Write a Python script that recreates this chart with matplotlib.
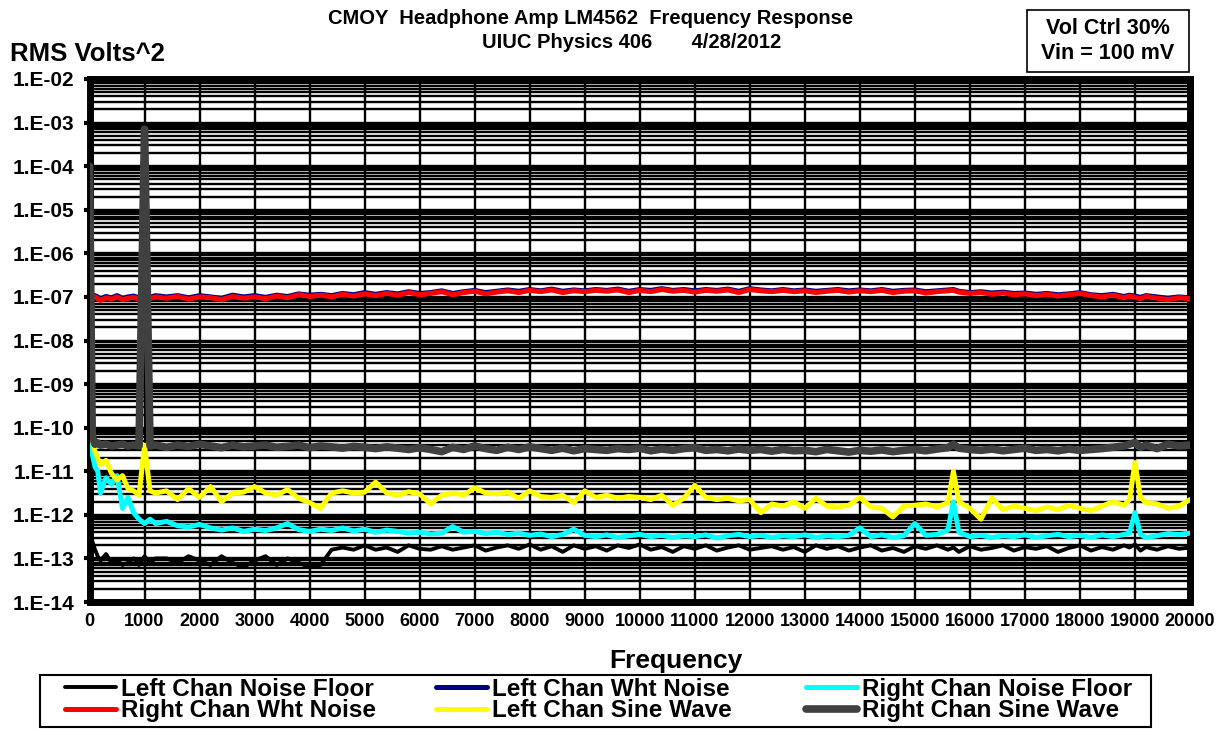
import numpy as np
import matplotlib
matplotlib.use("Agg")
import matplotlib.pyplot as plt
from matplotlib.ticker import LogLocator, MultipleLocator, FuncFormatter, NullFormatter
from matplotlib.patches import Rectangle

plt.rcParams['font.family'] = ['Liberation Sans', 'DejaVu Sans']
plt.rcParams['font.weight'] = 'bold'

# frequency grid (Hz): 200 Hz steps plus a few extra points near the start and the spikes
freq = sorted(set(range(0, 20001, 200)) | {50, 100, 150, 300, 500, 700, 900, 1100, 15700, 18900, 19100})

# values are log10(RMS Volts^2)
# rows: 0-1200 | 1400-2800 | 3000-4400 | 4600-6000 | 6200-7600 | 7800-9200 | 9400-10800
#       11000-12400 | 12600-14000 | 14200-15600 | 15700-17200 | 17400-18800 | 18900-20000
left_noise = [
    -12.35, -12.6, -12.8, -12.95, -13.05, -12.9, -13.1, -13.05, -13.15, -13.1, -13.0, -13.15, -12.95, -13.1, -13.0,
    -13.0, -13.1, -12.95, -13.05, -13.15, -12.95, -13.1, -13.2,
    -13.05, -12.95, -13.15, -13.0, -13.1, -13.2, -13.15, -12.8,
    -12.75, -12.8, -12.7, -12.8, -12.75, -12.85, -12.7, -12.78,
    -12.8, -12.72, -12.8, -12.75, -12.7, -12.82, -12.75, -12.7,
    -12.78, -12.68, -12.8, -12.72, -12.85, -12.7, -12.78, -12.72,
    -12.82, -12.7, -12.76, -12.68, -12.8, -12.74, -12.85, -12.72,
    -12.78, -12.7, -12.82, -12.75, -12.7, -12.8, -12.76, -12.72,
    -12.8, -12.74, -12.85, -12.7, -12.78, -12.72, -12.82, -12.75,
    -12.7, -12.82, -12.76, -12.85, -12.72, -12.78, -12.7, -12.8,
    -12.75, -12.85, -12.72, -12.8, -12.76, -12.7, -12.82, -12.74, -12.78,
    -12.72, -12.85, -12.76, -12.7, -12.82, -12.74, -12.8, -12.7,
    -12.75, -12.68, -12.82, -12.74, -12.8, -12.72, -12.78, -12.75,
]
left_wht = [
    -7.0, -7.02, -6.97, -7.0, -7.04, -6.99, -7.02, -6.97, -7.03, -7.0, -6.98, -7.02, -6.99, -7.01, -6.97,
    -7.0, -6.97, -7.02, -6.97, -7.0, -7.03, -6.96, -7.0,
    -6.97, -7.01, -6.96, -6.99, -6.93, -6.96, -6.94, -6.97,
    -6.92, -6.95, -6.9, -6.94, -6.9, -6.93, -6.88, -6.92,
    -6.9, -6.86, -6.92, -6.88, -6.85, -6.9, -6.87, -6.84,
    -6.87, -6.83, -6.86, -6.82, -6.87, -6.84, -6.86, -6.83,
    -6.85, -6.82, -6.87, -6.83, -6.85, -6.81, -6.85, -6.83,
    -6.86, -6.83, -6.85, -6.82, -6.87, -6.81, -6.84, -6.86,
    -6.83, -6.86, -6.84, -6.87, -6.85, -6.83, -6.86, -6.84,
    -6.86, -6.83, -6.87, -6.85, -6.84, -6.88, -6.86, -6.84,
    -6.83, -6.87, -6.9, -6.88, -6.91, -6.89, -6.92, -6.91, -6.94,
    -6.92, -6.95, -6.93, -6.9, -6.95, -6.97, -6.94, -6.99,
    -6.96, -6.98, -7.01, -6.97, -7.0, -7.03, -7.0, -7.02,
]
right_noise = [
    -10.0, -10.6, -10.9, -11.0, -11.5, -11.15, -11.3, -11.1, -11.85, -11.6, -11.95, -12.1, -12.2, -12.1, -12.2,
    -12.15, -12.25, -12.28, -12.22, -12.3, -12.35, -12.3, -12.38,
    -12.33, -12.36, -12.3, -12.2, -12.34, -12.38, -12.33, -12.36,
    -12.3, -12.37, -12.33, -12.4, -12.35, -12.38, -12.42, -12.4,
    -12.44, -12.42, -12.27, -12.4, -12.38, -12.43, -12.4, -12.45,
    -12.42, -12.47, -12.44, -12.5, -12.45, -12.33, -12.47, -12.5,
    -12.46, -12.52, -12.48, -12.45, -12.5, -12.47, -12.52, -12.48,
    -12.5, -12.46, -12.53, -12.48, -12.45, -12.5, -12.47, -12.52,
    -12.48, -12.5, -12.46, -12.52, -12.48, -12.5, -12.47, -12.3,
    -12.5, -12.46, -12.52, -12.48, -12.2, -12.47, -12.45, -12.35,
    -11.7, -12.4, -12.5, -12.47, -12.52, -12.48, -12.5, -12.46, -12.52,
    -12.48, -12.45, -12.5, -12.47, -12.52, -12.46, -12.5, -12.45,
    -12.42, -11.95, -12.45, -12.52, -12.48, -12.43, -12.45, -12.42,
]
right_wht = [
    -7.02, -7.05, -7.0, -7.04, -7.08, -7.02, -7.05, -7.0, -7.06, -7.03, -7.01, -7.05, -7.02, -7.04, -7.0,
    -7.03, -6.99, -7.05, -7.0, -7.02, -7.06, -6.99, -7.03,
    -7.0, -7.04, -6.98, -7.02, -6.95, -6.99, -6.96, -7.0,
    -6.94, -6.98, -6.93, -6.97, -6.92, -6.96, -6.9, -6.95,
    -6.92, -6.88, -6.95, -6.9, -6.87, -6.93, -6.89, -6.86,
    -6.9, -6.85, -6.88, -6.84, -6.9, -6.86, -6.88, -6.85,
    -6.87, -6.84, -6.9, -6.85, -6.88, -6.83, -6.87, -6.85,
    -6.89, -6.85, -6.87, -6.84, -6.9, -6.83, -6.86, -6.88,
    -6.85, -6.88, -6.86, -6.9, -6.87, -6.85, -6.89, -6.86,
    -6.88, -6.85, -6.9, -6.87, -6.86, -6.91, -6.88, -6.86,
    -6.85, -6.89, -6.92, -6.9, -6.94, -6.91, -6.95, -6.93, -6.97,
    -6.94, -6.98, -6.95, -6.92, -6.97, -7.0, -6.96, -7.02,
    -6.98, -7.01, -7.04, -6.99, -7.03, -7.06, -7.02, -7.04,
]
left_sine = [
    -10.0, -10.3, -10.55, -10.7, -10.85, -10.75, -11.05, -11.2, -11.1, -11.4, -11.45, -11.55, -10.4, -11.45, -11.5,
    -11.45, -11.65, -11.4, -11.6, -11.35, -11.7, -11.5, -11.48,
    -11.35, -11.5, -11.55, -11.42, -11.62, -11.72, -11.85, -11.5,
    -11.45, -11.5, -11.48, -11.25, -11.5, -11.55, -11.47, -11.52,
    -11.75, -11.55, -11.5, -11.55, -11.38, -11.5, -11.52, -11.48,
    -11.62, -11.45, -11.58, -11.6, -11.55, -11.72, -11.45, -11.6,
    -11.55, -11.62, -11.58, -11.6, -11.65, -11.55, -11.78, -11.62,
    -11.32, -11.6, -11.65, -11.62, -11.68, -11.65, -11.95, -11.75,
    -11.8, -11.7, -11.85, -11.62, -11.8, -11.82, -11.78, -11.6,
    -11.82, -11.85, -12.05, -11.8, -11.78, -11.75, -11.82, -11.72,
    -11.0, -11.7, -11.85, -12.1, -11.62, -11.88, -11.8, -11.85, -11.9,
    -11.82, -11.88, -11.78, -11.85, -11.9, -11.8, -11.7, -11.78,
    -11.65, -10.8, -11.6, -11.72, -11.75, -11.85, -11.8, -11.65,
]
right_sine = [
    -4.0, -10.2, -10.38, -10.35, -10.4, -10.38, -10.42, -10.4, -10.38, -10.42, -10.4, -10.42, -3.15, -10.42, -10.4,
    -10.45, -10.4, -10.43, -10.38, -10.42, -10.46, -10.4, -10.44,
    -10.42, -10.4, -10.45, -10.43, -10.4, -10.46, -10.42, -10.44,
    -10.47, -10.43, -10.45, -10.48, -10.44, -10.47, -10.5, -10.46,
    -10.5, -10.55, -10.45, -10.5, -10.42, -10.48, -10.52, -10.45,
    -10.5, -10.44, -10.48, -10.52, -10.47, -10.53, -10.48, -10.5,
    -10.52, -10.48, -10.5, -10.47, -10.53, -10.49, -10.52, -10.48,
    -10.46, -10.52, -10.5, -10.53, -10.49, -10.52, -10.5, -10.54,
    -10.5, -10.53, -10.52, -10.55, -10.5, -10.53, -10.56, -10.52,
    -10.54, -10.51, -10.55, -10.52, -10.5, -10.53, -10.49, -10.46,
    -10.38, -10.47, -10.5, -10.52, -10.49, -10.53, -10.5, -10.47, -10.52,
    -10.5, -10.53, -10.49, -10.52, -10.5, -10.48, -10.45, -10.42,
    -10.38, -10.34, -10.45, -10.4, -10.48, -10.38, -10.42, -10.4,
]

series = [
    ("Left Chan Noise Floor", left_noise, "black", 2.8),
    ("Left Chan Wht Noise", left_wht, "#000080", 3.6),
    ("Right Chan Noise Floor", right_noise, "#00FFFF", 3.6),
    ("Right Chan Wht Noise", right_wht, "#FF0000", 3.6),
    ("Left Chan Sine Wave", left_sine, "#FFFF00", 3.6),
    ("Right Chan Sine Wave", right_sine, "#404040", 5.5),
]

W, H = 1227, 729
fig = plt.figure(figsize=(W / 100, H / 100), dpi=100)
ax = fig.add_axes([89.5 / W, 1 - 602 / H, (1190 - 89.5) / W, (602 - 79) / H])

lines = {}
for name, vals, col, lw in series:
    ln, = ax.plot(freq, 10.0 ** np.array(vals), color=col, lw=lw, label=name,
                  solid_joinstyle='round', solid_capstyle='round', zorder=3)
    lines[name] = ln

ax.set_yscale('log')
ax.set_xlim(0, 20000)
ax.set_ylim(1e-14, 1e-2)

ax.yaxis.set_major_locator(LogLocator(base=10, numticks=20))
ax.yaxis.set_minor_locator(LogLocator(base=10, subs=np.arange(2, 10), numticks=20))
ax.yaxis.set_major_formatter(FuncFormatter(lambda v, p: "1.E%03d" % round(np.log10(v))))
ax.yaxis.set_minor_formatter(NullFormatter())
ax.xaxis.set_major_locator(MultipleLocator(1000))
ax.xaxis.set_major_formatter(FuncFormatter(lambda v, p: "%d" % v))

ax.grid(True, which='both', axis='y', color='black', lw=1.7)
ax.grid(True, which='major', axis='x', color='black', lw=1.7)
ax.tick_params(axis='y', which='major', length=4, width=3, pad=7, labelsize=15)
ax.tick_params(axis='y', which='minor', length=0)
ax.tick_params(axis='x', length=0, pad=8, labelsize=13)
for sp in ax.spines.values():
    sp.set_linewidth(5)
    sp.set_color('black')

fig.text(591 / W, 1 - 18 / H, "CMOY  Headphone Amp LM4562  Frequency Response",
         ha='center', va='center', fontsize=14.5, fontweight='bold')
fig.text(632 / W, 1 - 42 / H, "UIUC Physics 406       4/28/2012",
         ha='center', va='center', fontsize=14.5, fontweight='bold')
fig.text(10 / W, 1 - 54 / H, "RMS Volts^2", ha='left', va='center', fontsize=18.5, fontweight='bold')
fig.text(676 / W, 1 - 661 / H, "Frequency", ha='center', va='center', fontsize=19, fontweight='bold')

# note box, top right
fig.patches.append(Rectangle((1027 / W, 1 - 72 / H), 162 / W, 62 / H, transform=fig.transFigure,
                             fill=False, edgecolor='black', lw=1.2))
fig.text(1108 / W, 1 - 41 / H, "Vol Ctrl 30%\nVin = 100 mV", ha='center', va='center',
         fontsize=15.5, fontweight='bold', linespacing=1.2)

# legend: three columns in one frame
fig.patches.append(Rectangle((40 / W, 1 - 727 / H), 1111 / W, 52 / H, transform=fig.transFigure,
                             fill=False, edgecolor='black', lw=1.5))
cols = [["Left Chan Noise Floor", "Right Chan Wht Noise"],
        ["Left Chan Wht Noise", "Left Chan Sine Wave"],
        ["Right Chan Noise Floor", "Right Chan Sine Wave"]]
col_x = [65, 436, 806]
for names, x0 in zip(cols, col_x):
    lg = fig.legend([lines[n] for n in names], names, loc='center left',
                    bbox_to_anchor=(x0 / W, 1 - 700 / H), frameon=False, borderpad=0,
                    borderaxespad=0, fontsize=17.5, handlelength=2.1, handletextpad=0.2,
                    labelspacing=-0.05)
    for t in lg.get_texts():
        t.set_fontweight('bold')

fig.savefig("out.png", dpi=100)
